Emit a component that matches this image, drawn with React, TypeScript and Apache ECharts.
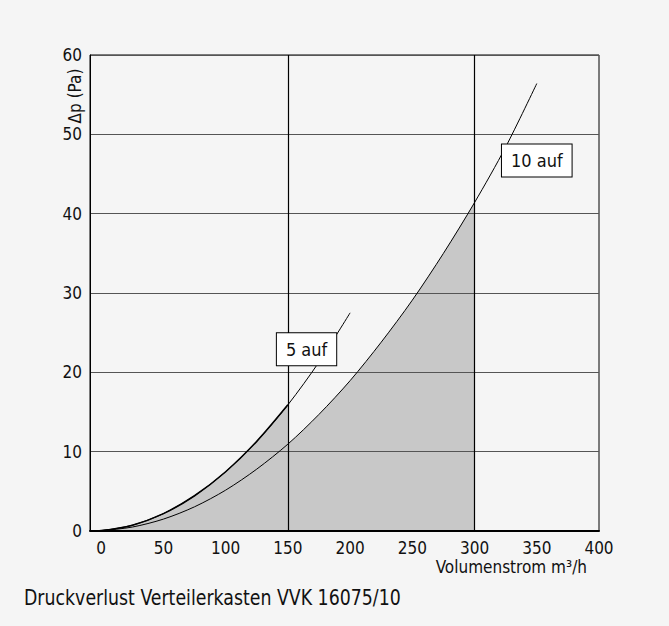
import React, { useEffect, useRef } from "react";
import * as echarts from "echarts";

// Volume flow (m³/h) and pressure loss (Pa)
const flow5 = [-9, 0, 25, 50, 75, 100, 125, 150, 175, 200];
const dp5 = [0, 0.05, 0.73, 2.19, 4.44, 7.47, 11.3, 15.9, 21.3, 27.5];
const flow10 = [-9, 0, 25, 50, 75, 100, 125, 150, 175, 200, 225, 250, 275, 300, 325, 350];
const dp10 = [0, 0.04, 0.5, 1.5, 3.05, 5.15, 7.8, 10.95, 14.7, 18.95, 23.8, 29.1, 35.0, 41.4, 48.4, 56.4];
const xTicks = [0, 50, 100, 150, 200, 250, 300, 350, 400];
const markedFlows = [150, 300];
const labels = [
  { name: "5 auf", coord: [165, 22.9] },
  { name: "10 auf", coord: [350, 46.7] },
];
const shadeLimit5 = 150;
const shadeLimit10 = 300;

const FONT = "'Liberation Sans Narrow', 'DejaVu Sans Condensed', 'Roboto Condensed', 'Liberation Sans', sans-serif";

export default function App() {
  const ref = useRef<HTMLDivElement>(null);
  useEffect(() => {
    if (!ref.current) return;
    document.body.style.margin = "0";
    const chart = echarts.init(ref.current, null, { renderer: "svg" });
    const s5 = flow5.map((x, i) => [x, dp5[i]]);
    const s10 = flow10.map((x, i) => [x, dp10[i]]);
    const shade5 = s5.filter((p) => p[0] <= shadeLimit5);
    const shade10 = s10.filter((p) => p[0] <= shadeLimit10);
    const labelStyle = {
      show: true,
      position: "inside",
      color: "#111",
      fontSize: 18,
      fontFamily: FONT,
      backgroundColor: "#ffffff",
      borderColor: "#000",
      borderWidth: 1,
      padding: [7, 9, 7, 9],
    };
    chart.setOption({
      animation: false,
      backgroundColor: "#f5f5f5",
      grid: {
        left: 90,
        right: 70,
        top: 55,
        bottom: 95,
        show: true,
        borderColor: "#000",
        borderWidth: 1,
        backgroundColor: "transparent",
      },
      xAxis: {
        type: "value",
        min: -9,
        max: 400,
        axisLine: { show: true, onZero: false, lineStyle: { color: "#000", width: 2 } },
        axisTick: { show: false },
        splitLine: { show: false },
        axisLabel: {
          customValues: xTicks,
          color: "#111",
          fontSize: 17,
          fontFamily: FONT,
          margin: 8,
        },
      },
      yAxis: {
        type: "value",
        min: 0,
        max: 60,
        interval: 10,
        axisLine: { show: true, onZero: false, lineStyle: { color: "#000", width: 1 } },
        axisTick: { show: false },
        splitLine: { show: true, lineStyle: { color: "#555", width: 1 } },
        axisLabel: { color: "#111", fontSize: 17, fontFamily: FONT, margin: 8 },
      },
      series: [
        {
          type: "line",
          data: shade10,
          smooth: 0.3,
          symbol: "none",
          z: -1,
          lineStyle: { width: 0 },
          areaStyle: { color: "#c8c8c8", opacity: 1 },
        },
        {
          type: "line",
          data: shade5,
          smooth: 0.3,
          symbol: "none",
          z: -1,
          lineStyle: { width: 0 },
          areaStyle: { color: "#c8c8c8", opacity: 1 },
        },
        {
          type: "line",
          data: s10,
          smooth: 0.3,
          symbol: "none",
          lineStyle: { color: "#000", width: 1 },
          markLine: {
            silent: true,
            symbol: "none",
            label: { show: false },
            lineStyle: { color: "#000", width: 1.2, type: "solid" },
            data: markedFlows.map((v) => ({ xAxis: v })),
          },
          markPoint: {
            symbol: "rect",
            symbolSize: 1,
            itemStyle: { color: "transparent" },
            label: { ...labelStyle, formatter: labels[1].name },
            data: [{ coord: labels[1].coord }],
          },
        },
        {
          type: "line",
          data: s5,
          smooth: 0.3,
          symbol: "none",
          lineStyle: { color: "#000", width: 1 },
          markPoint: {
            symbol: "rect",
            symbolSize: 1,
            itemStyle: { color: "transparent" },
            label: { ...labelStyle, formatter: labels[0].name },
            data: [{ coord: labels[0].coord }],
          },
        },
        {
          type: "line",
          data: shade5,
          smooth: 0.3,
          symbol: "none",
          lineStyle: { color: "#000", width: 1.6 },
        },
      ],
      graphic: [
        {
          type: "text",
          x: 75,
          y: 96,
          rotation: Math.PI / 2,
          style: {
            text: "Δp (Pa)",
            fill: "#111",
            fontSize: 17,
            fontFamily: FONT,
            align: "center",
            verticalAlign: "middle",
          },
        },
        {
          type: "text",
          x: 587,
          y: 567,
          style: {
            text: "Volumenstrom m³/h",
            fill: "#111",
            fontSize: 17,
            fontFamily: FONT,
            align: "right",
            verticalAlign: "middle",
          },
        },
        {
          type: "text",
          x: 24,
          y: 598,
          scaleX: 0.92,
          style: {
            text: "Druckverlust Verteilerkasten VVK 16075/10",
            fill: "#111",
            fontSize: 21,
            fontFamily: FONT,
            align: "left",
            verticalAlign: "middle",
          },
        },
      ],
    });
    return () => chart.dispose();
  }, []);
  return <div ref={ref} style={{ width: 669, height: 626 }} />;
}
